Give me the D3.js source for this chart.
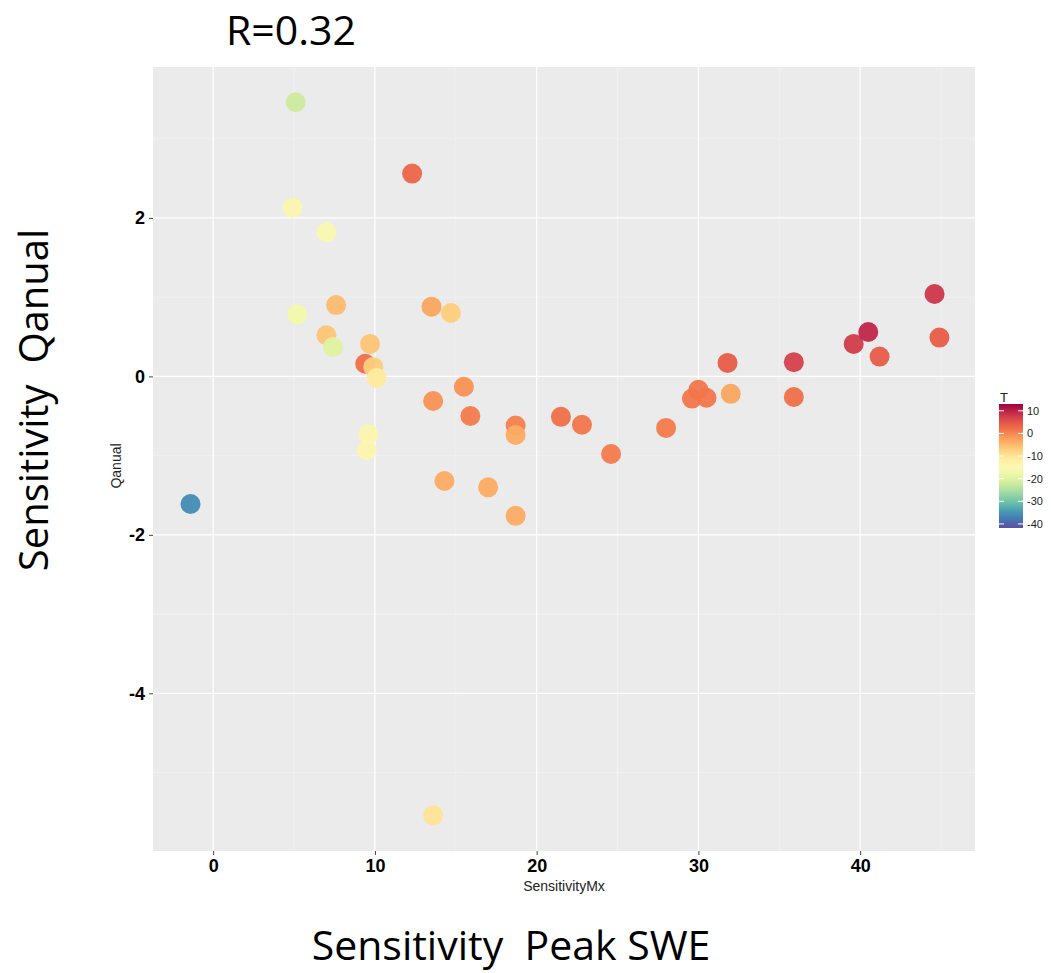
<!DOCTYPE html>
<html>
<head>
<meta charset="utf-8">
<script src="https://cdnjs.cloudflare.com/ajax/libs/d3/7.8.5/d3.min.js"></script>
<style>
  body { margin: 0; background: #fff; }
  svg text { font-family: "Liberation Sans", Arial, sans-serif; }
  .big { font-family: "Open Sans", "Noto Sans", sans-serif !important; white-space: pre; }
</style>
</head>
<body>
<div id="chart"></div>
<script>
// data
const sensitivityMx = [-1.4, 5.1, 4.9, 7.0, 12.3, 5.2, 7.6, 7.0, 7.4, 9.7, 9.4, 9.9, 10.1, 9.6, 9.5,
  13.5, 14.7, 13.6, 15.5, 15.9, 18.7, 18.7, 14.3, 17.0, 18.7, 13.6, 21.5, 22.8, 24.6, 28.0,
  29.6, 30.0, 30.5, 32.0, 31.8, 35.9, 35.9, 39.6, 40.5, 41.2, 44.6, 44.9];
const qanual = [-1.61, 3.46, 2.13, 1.82, 2.56, 0.78, 0.90, 0.52, 0.37, 0.41, 0.16, 0.12, -0.02, -0.73, -0.93,
  0.88, 0.80, -0.31, -0.13, -0.50, -0.62, -0.74, -1.32, -1.40, -1.76, -5.54, -0.51, -0.61, -0.98, -0.65,
  -0.28, -0.17, -0.27, -0.22, 0.17, 0.18, -0.26, 0.41, 0.56, 0.25, 1.04, 0.49];
const temp = [-36, -22, -14, -15, 3, -17, -5, -6, -20, -6, 2, -7, -11, -14, -14,
  -3, -7, -1, -1, 1, 0.5, -3.5, -3.5, -3.5, -3.5, -10, 2, 1.5, 1, 1,
  1.5, 1.5, 1.5, -3, 4, 7, 2, 7.5, 9.5, 4, 8, 4];
const xTicks = [0, 10, 20, 30, 40];
const xMinor = [5, 15, 25, 35, 45];
const yTicks = [-4, -2, 0, 2];
const yMinor = [-5, -3, -1, 1, 3];
const legendTicks = [10, 0, -10, -20, -30, -40];

const width = 1051, height = 973;
const panel = { left: 153, right: 975, top: 67, bottom: 851 };

const svg = d3.select('#chart').append('svg')
  .attr('width', width).attr('height', height);

const x = d3.scaleLinear().domain([-3.72, 47.1]).range([panel.left, panel.right]);
const y = d3.scaleLinear().domain([-5.99, 3.905]).range([panel.bottom, panel.top]);
const color = d3.scaleSequential(t => d3.interpolateSpectral(1 - t)).domain([-41.8, 13]);

// panel background
svg.append('rect')
  .attr('x', panel.left).attr('y', panel.top)
  .attr('width', panel.right - panel.left).attr('height', panel.bottom - panel.top)
  .attr('fill', '#ebebeb');

// grid
const grid = svg.append('g');
grid.selectAll('.xminor').data(xMinor.filter(v => x(v) < panel.right)).enter().append('line')
  .attr('x1', d => x(d)).attr('x2', d => x(d)).attr('y1', panel.top).attr('y2', panel.bottom)
  .attr('stroke', '#f5f5f5').attr('stroke-width', 0.6);
grid.selectAll('.yminor').data(yMinor).enter().append('line')
  .attr('y1', d => y(d)).attr('y2', d => y(d)).attr('x1', panel.left).attr('x2', panel.right)
  .attr('stroke', '#f5f5f5').attr('stroke-width', 0.6);
grid.selectAll('.xmajor').data(xTicks).enter().append('line')
  .attr('x1', d => x(d)).attr('x2', d => x(d)).attr('y1', panel.top).attr('y2', panel.bottom)
  .attr('stroke', '#fff').attr('stroke-width', 1.2);
grid.selectAll('.ymajor').data(yTicks).enter().append('line')
  .attr('y1', d => y(d)).attr('y2', d => y(d)).attr('x1', panel.left).attr('x2', panel.right)
  .attr('stroke', '#fff').attr('stroke-width', 1.2);

// axes
const xAxis = svg.append('g')
  .attr('transform', `translate(0,${panel.bottom})`)
  .call(d3.axisBottom(x).tickValues(xTicks).tickSize(4).tickPadding(4));
const yAxis = svg.append('g')
  .attr('transform', `translate(${panel.left},0)`)
  .call(d3.axisLeft(y).tickValues(yTicks).tickSize(4).tickPadding(4));
[xAxis, yAxis].forEach(ax => {
  ax.select('.domain').remove();
  ax.selectAll('.tick line').attr('stroke', '#444');
  ax.selectAll('.tick text').attr('fill', '#000').style('font-size', '18px').style('font-weight', 'bold');
});
yAxis.selectAll('.tick text').text(d => d < 0 ? '-' + Math.abs(d) : d);

// points
const points = sensitivityMx.map((v, i) => ({ x: v, y: qanual[i], t: temp[i] }));
svg.append('g').selectAll('circle').data(points).enter().append('circle')
  .attr('cx', d => x(d.x)).attr('cy', d => y(d.y)).attr('r', 10)
  .attr('fill', d => color(d.t)).attr('opacity', 0.95);

// small axis titles
svg.append('text').attr('x', 564).attr('y', 891)
  .attr('text-anchor', 'middle').style('font-size', '14px').attr('fill', '#222')
  .text('SensitivityMx');
svg.append('text').attr('transform', 'translate(121,466) rotate(-90)')
  .attr('text-anchor', 'middle').style('font-size', '14px').attr('fill', '#222')
  .text('Qanual');

// legend colourbar
const lg = { x: 999, top: 404, bottom: 528, w: 24 };
const ly = d3.scaleLinear().domain(color.domain()).range([lg.bottom, lg.top]);
const grad = svg.append('defs').append('linearGradient')
  .attr('id', 'tgrad').attr('x1', 0).attr('y1', 1).attr('x2', 0).attr('y2', 0);
d3.range(0, 1.0001, 0.05).forEach(o => {
  grad.append('stop').attr('offset', o)
    .attr('stop-color', color(color.domain()[0] + o * (color.domain()[1] - color.domain()[0])));
});
svg.append('text').attr('x', 1000).attr('y', 402).style('font-size', '13px').attr('fill', '#222').text('T');
svg.append('rect').attr('x', lg.x).attr('y', lg.top).attr('width', lg.w)
  .attr('height', lg.bottom - lg.top).attr('fill', 'url(#tgrad)');
const lt = svg.append('g').selectAll('g').data(legendTicks).enter().append('g');
lt.append('line').attr('x1', lg.x).attr('x2', lg.x + 5).attr('y1', d => ly(d)).attr('y2', d => ly(d))
  .attr('stroke', '#fff').attr('stroke-width', 1);
lt.append('line').attr('x1', lg.x + lg.w - 5).attr('x2', lg.x + lg.w).attr('y1', d => ly(d)).attr('y2', d => ly(d))
  .attr('stroke', '#fff').attr('stroke-width', 1);
lt.append('text').attr('x', lg.x + lg.w + 4).attr('y', d => ly(d)).attr('dy', '0.35em')
  .style('font-size', '11px').attr('fill', '#222').text(d => d);

// large annotation labels
svg.append('text').attr('class', 'big').attr('x', 226).attr('y', 45)
  .style('font-size', '41px').attr('fill', '#000').text('R=0.32');
svg.append('text').attr('class', 'big').attr('transform', 'translate(48,400) rotate(-90)')
  .attr('text-anchor', 'middle').style('font-size', '40px').attr('fill', '#000')
  .text('Sensitivity  Qanual');
svg.append('text').attr('class', 'big').attr('x', 511).attr('y', 960)
  .attr('text-anchor', 'middle').style('font-size', '41px').attr('fill', '#000')
  .text('Sensitivity  Peak SWE');
</script>
</body>
</html>
